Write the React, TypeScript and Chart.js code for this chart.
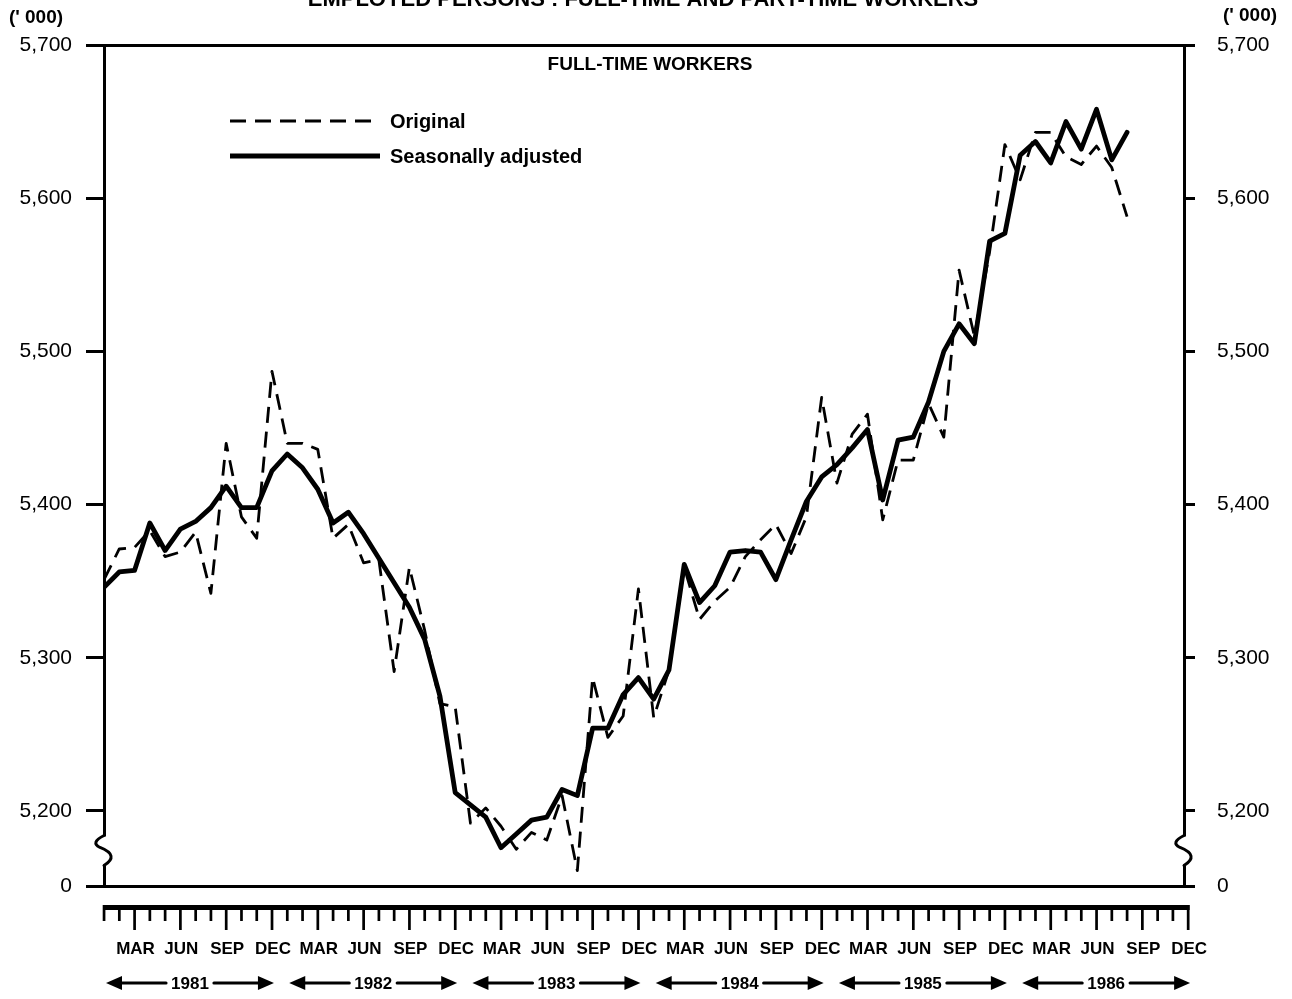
import React, { useEffect, useRef } from "react";
import { Chart, registerables } from "chart.js";

Chart.register(...registerables);

// ---------- DATA ----------
const monthNames = ["JAN", "FEB", "MAR", "APR", "MAY", "JUN", "JUL", "AUG", "SEP", "OCT", "NOV", "DEC"];
const years = ["1981", "1982", "1983", "1984", "1985", "1986"];

// Monthly values, January 1981 to August 1986 ('000)
const originalSeries = [
  5351, 5371, 5372, 5383, 5366, 5369, 5382, 5342, 5440, 5392, 5378, 5487,
  5440, 5440, 5436, 5378, 5387, 5362, 5364, 5291, 5359, 5318, 5270, 5268,
  5192, 5202, 5190, 5175, 5186, 5181, 5210, 5161, 5287, 5248, 5262, 5345,
  5261, 5292, 5359, 5325, 5337, 5346, 5366, 5377, 5387, 5368, 5392, 5470,
  5414, 5446, 5459, 5390, 5429, 5429, 5466, 5444, 5553, 5510, 5565, 5635,
  5612, 5643, 5643, 5627, 5622, 5634, 5620, 5588,
];
const adjustedSeries = [
  5346, 5356, 5357, 5388, 5370, 5384, 5389, 5398, 5412, 5398, 5398, 5422,
  5433, 5424, 5410, 5388, 5395, 5381, 5365, 5349, 5333, 5312, 5275, 5212,
  5204, 5196, 5176, 5185, 5194, 5196, 5214, 5210, 5254, 5254, 5276, 5287,
  5273, 5292, 5361, 5336, 5347, 5369, 5370, 5369, 5351, 5377, 5402, 5418,
  5426, 5437, 5449, 5403, 5442, 5444, 5467, 5500, 5518, 5505, 5572, 5577,
  5628, 5637, 5623, 5650, 5632, 5658, 5625, 5643,
];

const yTickValues = [5200, 5300, 5400, 5500, 5600, 5700];
const yBreakValue = 5151; // bottom of the broken axis, labelled "0"
const yMax = 5700;
const quarterLabels = ["MAR", "JUN", "SEP", "DEC"];
const xMax = 70.73; // right axis position in months from Jan 1981

const TITLE = "EMPLOYED PERSONS : FULL-TIME AND PART-TIME WORKERS";
const SUBTITLE = "FULL-TIME WORKERS";
const UNITS = "(' 000)";

const monthCategories = originalSeries.map((_, i) => `${monthNames[i % 12]} ${years[Math.floor(i / 12)]}`);

const SANS = '"Liberation Sans", Arial, Helvetica, sans-serif';

const decorPlugin = {
  id: "decor",
  afterDraw(chart: any) {
    const ctx = chart.ctx as CanvasRenderingContext2D;
    const xs = chart.scales.x;
    const ys = chart.scales.y;
    const { left, right, bottom } = chart.chartArea;
    ctx.save();
    ctx.fillStyle = "#000";
    ctx.strokeStyle = "#000";

    // Title (cut at the top edge)
    ctx.font = `bold 22px ${SANS}`;
    ctx.textAlign = "center";
    ctx.textBaseline = "alphabetic";
    ctx.fillText(TITLE, 643, 6);

    // Units
    ctx.font = `bold 19px ${SANS}`;
    ctx.textBaseline = "middle";
    ctx.fillText(UNITS, 36, 18);
    ctx.fillText(UNITS, 1250, 16);

    // Subtitle
    ctx.font = `bold 19px ${SANS}`;
    ctx.fillText(SUBTITLE, (left + right) / 2 + 6, 65);

    // Legend
    const dsOrig = chart.data.datasets[1];
    const dsAdj = chart.data.datasets[0];
    const lx0 = left + 126;
    const lx1 = left + 276;
    const legendRows = [
      { ds: dsOrig, y: 121 },
      { ds: dsAdj, y: 156 },
    ];
    ctx.textAlign = "left";
    ctx.font = `bold 20px ${SANS}`;
    for (const row of legendRows) {
      ctx.beginPath();
      ctx.lineWidth = row.ds.borderWidth;
      ctx.setLineDash(row.ds.borderDash || []);
      ctx.moveTo(lx0, row.y);
      ctx.lineTo(lx1, row.y);
      ctx.stroke();
      ctx.setLineDash([]);
      ctx.fillText(row.ds.label, lx1 + 10, row.y + 1);
    }

    // Axis breaks
    const yb = (ys.getPixelForValue(5200) + bottom) / 2 + 2;
    for (const ax of [left, right]) {
      ctx.fillStyle = "#fff";
      ctx.fillRect(ax - 4, yb - 14, 8, 28);
      ctx.beginPath();
      ctx.lineWidth = 3;
      ctx.lineJoin = "round";
      ctx.lineCap = "round";
      ctx.moveTo(ax, yb - 15);
      ctx.quadraticCurveTo(ax - 14, yb - 8, ax - 4, yb - 3);
      ctx.quadraticCurveTo(ax + 16, yb + 5, ax, yb + 15);
      ctx.stroke();
    }
    ctx.fillStyle = "#000";

    // Month ruler
    const rulerTop = 905;
    const x0 = xs.getPixelForValue(0);
    const x71 = xs.getPixelForValue(71);
    ctx.fillRect(x0, rulerTop, x71 - x0 + 1.5, 5);
    for (let i = 0; i <= 71; i++) {
      const px = xs.getPixelForValue(i);
      const isQuarter = i % 3 === 2;
      ctx.fillRect(px - 1.3, rulerTop, 2.7, isQuarter ? 25 : 16);
    }

    // Quarter labels
    ctx.font = `bold 17px ${SANS}`;
    ctx.textAlign = "center";
    ctx.textBaseline = "middle";
    for (let k = 0; k < years.length * 4; k++) {
      const px = xs.getPixelForValue(3 * k + 2);
      ctx.fillText(quarterLabels[k % 4], px + 1, 949);
    }

    // Year labels with arrows
    ctx.font = `bold 17px ${SANS}`;
    const cy = 983;
    years.forEach((yr, j) => {
      const a = xs.getPixelForValue(12 * j) + 2;
      const b = xs.getPixelForValue(12 * j + 11) + 2;
      const mid = (a + b) / 2;
      const w = ctx.measureText(yr).width;
      ctx.fillText(yr, mid, cy + 1);
      ctx.lineWidth = 3;
      ctx.beginPath();
      ctx.moveTo(a + 10, cy);
      ctx.lineTo(mid - w / 2 - 5, cy);
      ctx.moveTo(mid + w / 2 + 5, cy);
      ctx.lineTo(b - 10, cy);
      ctx.stroke();
      ctx.beginPath();
      ctx.moveTo(a, cy);
      ctx.lineTo(a + 16, cy - 7);
      ctx.lineTo(a + 16, cy + 7);
      ctx.closePath();
      ctx.fill();
      ctx.beginPath();
      ctx.moveTo(b, cy);
      ctx.lineTo(b - 16, cy - 7);
      ctx.lineTo(b - 16, cy + 7);
      ctx.closePath();
      ctx.fill();
    });

    ctx.restore();
  },
};

const yTickLabel = (value: number) =>
  value === yBreakValue ? "0" : Number(value).toLocaleString("en-US");

const buildYTicks = (scale: any) => {
  scale.ticks = [yBreakValue, ...yTickValues].map((v) => ({ value: v }));
};

export default function App() {
  const canvasRef = useRef<HTMLCanvasElement | null>(null);

  useEffect(() => {
    document.body.style.margin = "0";
    const canvas = canvasRef.current;
    if (!canvas) return;

    const chart = new Chart(canvas, {
      type: "line",
      data: {
        labels: monthCategories,
        datasets: [
          {
            label: "Seasonally adjusted",
            data: adjustedSeries.map((v, i) => ({ x: i, y: v })),
            borderColor: "#000",
            borderWidth: 4.8,
            pointRadius: 0,
            tension: 0,
            borderJoinStyle: "round",
            borderCapStyle: "round",
            fill: false,
            order: 0,
          } as any,
          {
            label: "Original",
            data: originalSeries.map((v, i) => ({ x: i, y: v })),
            borderColor: "#000",
            borderWidth: 2.8,
            borderDash: [16, 9],
            pointRadius: 0,
            tension: 0,
            borderJoinStyle: "round",
            fill: false,
            order: 1,
          } as any,
        ],
      },
      options: {
        animation: false,
        responsive: false,
        devicePixelRatio: 1,
        layout: { padding: { left: 0, right: 0, top: 0, bottom: 0 } },
        plugins: {
          legend: { display: false },
          tooltip: { enabled: false },
          title: { display: false },
        },
        scales: {
          x: {
            type: "linear",
            position: "bottom",
            min: 0,
            max: xMax,
            ticks: { display: false },
            grid: { display: false },
            border: { display: true, color: "#000", width: 3 },
            afterFit: (scale: any) => {
              scale.height = 113;
            },
          },
          x2: {
            type: "linear",
            position: "top",
            min: 0,
            max: xMax,
            display: true,
            ticks: { display: false },
            grid: { display: false },
            border: { display: true, color: "#000", width: 3 },
            afterFit: (scale: any) => {
              scale.height = 45;
            },
          },
          y: {
            type: "linear",
            position: "left",
            min: yBreakValue,
            max: yMax,
            afterBuildTicks: buildYTicks,
            ticks: {
              callback: (v: any) => yTickLabel(v),
              color: "#000",
              padding: 14,
              font: { family: SANS, size: 21 },
            },
            grid: {
              drawOnChartArea: false,
              drawTicks: true,
              tickLength: 18,
              color: "#000",
              lineWidth: 3,
            },
            border: { display: true, color: "#000", width: 3 },
            afterFit: (scale: any) => {
              scale.width = 104;
            },
          },
          y2: {
            type: "linear",
            position: "right",
            display: true,
            min: yBreakValue,
            max: yMax,
            afterBuildTicks: buildYTicks,
            ticks: {
              callback: (v: any) => yTickLabel(v),
              color: "#000",
              padding: 22,
              font: { family: SANS, size: 21 },
            },
            grid: {
              drawOnChartArea: false,
              drawTicks: true,
              tickLength: 11,
              color: "#000",
              lineWidth: 3,
            },
            border: { display: true, color: "#000", width: 3 },
            afterFit: (scale: any) => {
              scale.width = 108;
            },
          },
        },
      },
      plugins: [decorPlugin],
    });

    return () => chart.destroy();
  }, []);

  return (
    <div style={{ width: 1292, height: 999, background: "#fff" }}>
      <canvas ref={canvasRef} width={1292} height={999} style={{ display: "block" }} />
    </div>
  );
}
